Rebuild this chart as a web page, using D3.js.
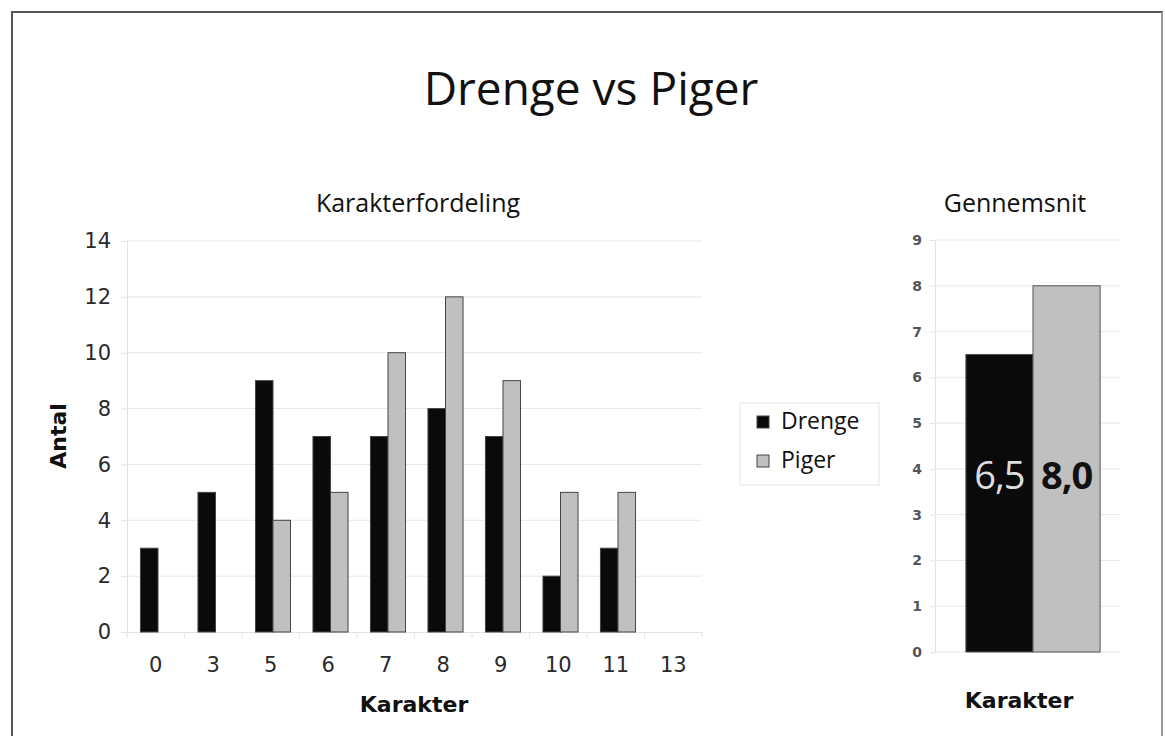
<!DOCTYPE html>
<html>
<head>
<meta charset="utf-8">
<script src="https://cdn.jsdelivr.net/npm/d3@7"></script>
<style>
  body { margin: 0; background: #fff; }
  svg { display: block; }
</style>
</head>
<body>
<script>
// data
const karakterer = ["0", "3", "5", "6", "7", "8", "9", "10", "11", "13"];
const serier = ["Drenge", "Piger"];
const drenge = [3, 5, 9, 7, 7, 8, 7, 2, 3, 0];
const piger = [0, 0, 4, 5, 10, 12, 9, 5, 5, 0];
const gennemsnit = [6.5, 8.0];
const gennemsnitLabels = ["6,5", "8,0"];
const antalTicks = [0, 2, 4, 6, 8, 10, 12, 14];
const snitTicks = [0, 1, 2, 3, 4, 5, 6, 7, 8, 9];

const colors = {Drenge: "#0a0a0a", Piger: "#c0c0c0"};
const width = 1165, height = 736;
const sans = "'DejaVu Sans', Verdana, sans-serif";
const myriad = "'Open Sans', sans-serif";

let svg = d3.select("body").append("svg")
	.attr("width", width)
	.attr("height", height);

//frame
svg.append("path")
	.attr("d", `M12,${height} V12 H1162 V${height}`)
	.attr("fill", "none")
	.attr("stroke", "#555")
	.attr("stroke-width", 2);
svg.append("line")
	.attr("x1", 1162).attr("x2", 1162).attr("y1", 12).attr("y2", height)
	.attr("stroke", "#ddd");

svg.append("text")
	.attr("x", 591).attr("y", 105)
	.attr("text-anchor", "middle")
	.attr("font-family", myriad)
	.attr("font-size", 46)
	.attr("fill", "#111")
	.text("Drenge vs Piger");

// ---- left chart: Karakterfordeling
const x = d3.scaleBand()
	.domain(karakterer)
	.range([127, 702]);
const x1 = d3.scaleBand()
	.domain(serier)
	.range([0, x.bandwidth()])
	.paddingOuter(0.64)
	.align(0.6);
const y = d3.scaleLinear()
	.domain([0, 14])
	.range([632, 241]);

svg.append("text")
	.attr("x", 418).attr("y", 212)
	.attr("text-anchor", "middle")
	.attr("font-family", myriad)
	.attr("font-size", 25)
	.attr("fill", "#111")
	.text("Karakterfordeling");

//grid
svg.append("g")
	.selectAll("line")
	.data(antalTicks.filter(d => d > 0))
	.join("line")
		.attr("x1", 127).attr("x2", 702)
		.attr("y1", d => y(d)).attr("y2", d => y(d))
		.attr("stroke", "#e8e8e8");

let yAxisGroup = svg.append("g")
	.attr("transform", "translate(127,0)")
	.call(d3.axisLeft(y).tickValues(antalTicks).tickSize(6).tickPadding(10));
yAxisGroup.select(".domain").attr("stroke", "#e2e2e2");
yAxisGroup.selectAll(".tick line").attr("stroke", "#e2e2e2");
yAxisGroup.selectAll(".tick text")
	.attr("font-family", sans).attr("font-size", 21).attr("fill", "#2a2a2a");

let xAxisGroup = svg.append("g")
	.attr("transform", "translate(0,632)")
	.call(d3.axisBottom(x).tickSize(0).tickPadding(25));
xAxisGroup.select(".domain").attr("stroke", "#e2e2e2");
xAxisGroup.selectAll(".tick text")
	.attr("font-family", sans).attr("font-size", 21).attr("fill", "#2a2a2a");
// separators between categories
xAxisGroup.append("g")
	.selectAll("line")
	.data(karakterer.concat(["end"]))
	.join("line")
		.attr("x1", d => d === "end" ? x.range()[1] : x(d))
		.attr("x2", d => d === "end" ? x.range()[1] : x(d))
		.attr("y1", 0).attr("y2", 6)
		.attr("stroke", "#e2e2e2");

svg.append("text")
	.attr("transform", "translate(66,436) rotate(-90)")
	.attr("text-anchor", "middle")
	.attr("font-family", sans)
	.attr("font-weight", "bold")
	.attr("font-size", 22)
	.attr("fill", "#111")
	.text("Antal");

svg.append("text")
	.attr("x", 414).attr("y", 712)
	.attr("text-anchor", "middle")
	.attr("font-family", sans)
	.attr("font-weight", "bold")
	.attr("font-size", 22)
	.attr("fill", "#111")
	.text("Karakter");

//bars
const rows = karakterer.map((k, i) => ({k, Drenge: drenge[i], Piger: piger[i]}));
svg.append("g")
	.selectAll("g")
	.data(rows)
	.join("g")
		.attr("transform", d => `translate(${x(d.k)},0)`)
	.selectAll("rect")
	.data(d => serier.map(s => ({s, v: d[s]})).filter(e => e.v > 0))
	.join("rect")
		.attr("x", d => x1(d.s))
		.attr("y", d => y(d.v))
		.attr("width", x1.bandwidth())
		.attr("height", d => y(0) - y(d.v))
		.attr("fill", d => colors[d.s])
		.attr("stroke", "#444")
		.attr("stroke-width", 1);

//legend
const legend = svg.append("g").attr("transform", "translate(740,403)");
legend.append("rect")
	.attr("width", 139).attr("height", 82)
	.attr("fill", "#fff").attr("stroke", "#e4e4e4");
legend.selectAll("g")
	.data(serier)
	.join("g")
		.attr("transform", (d, i) => `translate(17,${13 + i * 39})`)
		.call(g => g.append("rect")
			.attr("width", 12).attr("height", 12)
			.attr("fill", d => colors[d]).attr("stroke", "#444"))
		.call(g => g.append("text")
			.attr("x", 24).attr("y", 13)
			.attr("font-family", myriad)
			.attr("font-size", 23)
			.attr("fill", "#111")
			.text(d => d));

// ---- right chart: Gennemsnit
const xr = d3.scaleBand()
	.domain(["Karakter"])
	.range([935, 1131]);
const xr1 = d3.scaleBand()
	.domain(serier)
	.range([0, xr.bandwidth()])
	.paddingOuter(0.46);
const yr = d3.scaleLinear()
	.domain([0, 9])
	.range([652, 240]);

svg.append("text")
	.attr("x", 1015).attr("y", 212)
	.attr("text-anchor", "middle")
	.attr("font-family", myriad)
	.attr("font-size", 25)
	.attr("fill", "#111")
	.text("Gennemsnit");

svg.append("g")
	.selectAll("line")
	.data(snitTicks.filter(d => d > 0))
	.join("line")
		.attr("x1", 935).attr("x2", 1120)
		.attr("y1", d => yr(d)).attr("y2", d => yr(d))
		.attr("stroke", "#e8e8e8");

let yrAxisGroup = svg.append("g")
	.attr("transform", "translate(935,0)")
	.call(d3.axisLeft(yr).tickValues(snitTicks).tickSize(5).tickPadding(8));
yrAxisGroup.select(".domain").attr("stroke", "#e2e2e2");
yrAxisGroup.selectAll(".tick line").attr("stroke", "#e2e2e2");
yrAxisGroup.selectAll(".tick text")
	.attr("font-family", sans).attr("font-size", 14)
	.attr("font-weight", "bold").attr("fill", "#555");

svg.append("line")
	.attr("x1", 935).attr("x2", 1120)
	.attr("y1", yr(0)).attr("y2", yr(0))
	.attr("stroke", "#e2e2e2");

const snit = serier.map((s, i) => ({s, v: gennemsnit[i], label: gennemsnitLabels[i]}));
svg.append("g")
	.selectAll("rect")
	.data(snit)
	.join("rect")
		.attr("x", d => xr("Karakter") + xr1(d.s))
		.attr("y", d => yr(d.v))
		.attr("width", xr1.bandwidth())
		.attr("height", d => yr(0) - yr(d.v))
		.attr("fill", d => colors[d.s])
		.attr("stroke", "#555");

svg.append("g")
	.selectAll("text")
	.data(snit)
	.join("text")
		.attr("x", d => xr("Karakter") + xr1(d.s) + xr1.bandwidth() / 2)
		.attr("y", yr(3.55))
		.attr("text-anchor", "middle")
		.attr("font-family", myriad)
		.attr("font-size", 38)
		.attr("font-weight", d => d.s === "Piger" ? "bold" : "normal")
		.attr("letter-spacing", -1)
		.attr("fill", d => d.s === "Piger" ? "#111" : "#ddd")
		.text(d => d.label);

svg.append("text")
	.attr("x", 1019).attr("y", 708)
	.attr("text-anchor", "middle")
	.attr("font-family", sans)
	.attr("font-weight", "bold")
	.attr("font-size", 22)
	.attr("fill", "#111")
	.text("Karakter");
</script>
</body>
</html>
